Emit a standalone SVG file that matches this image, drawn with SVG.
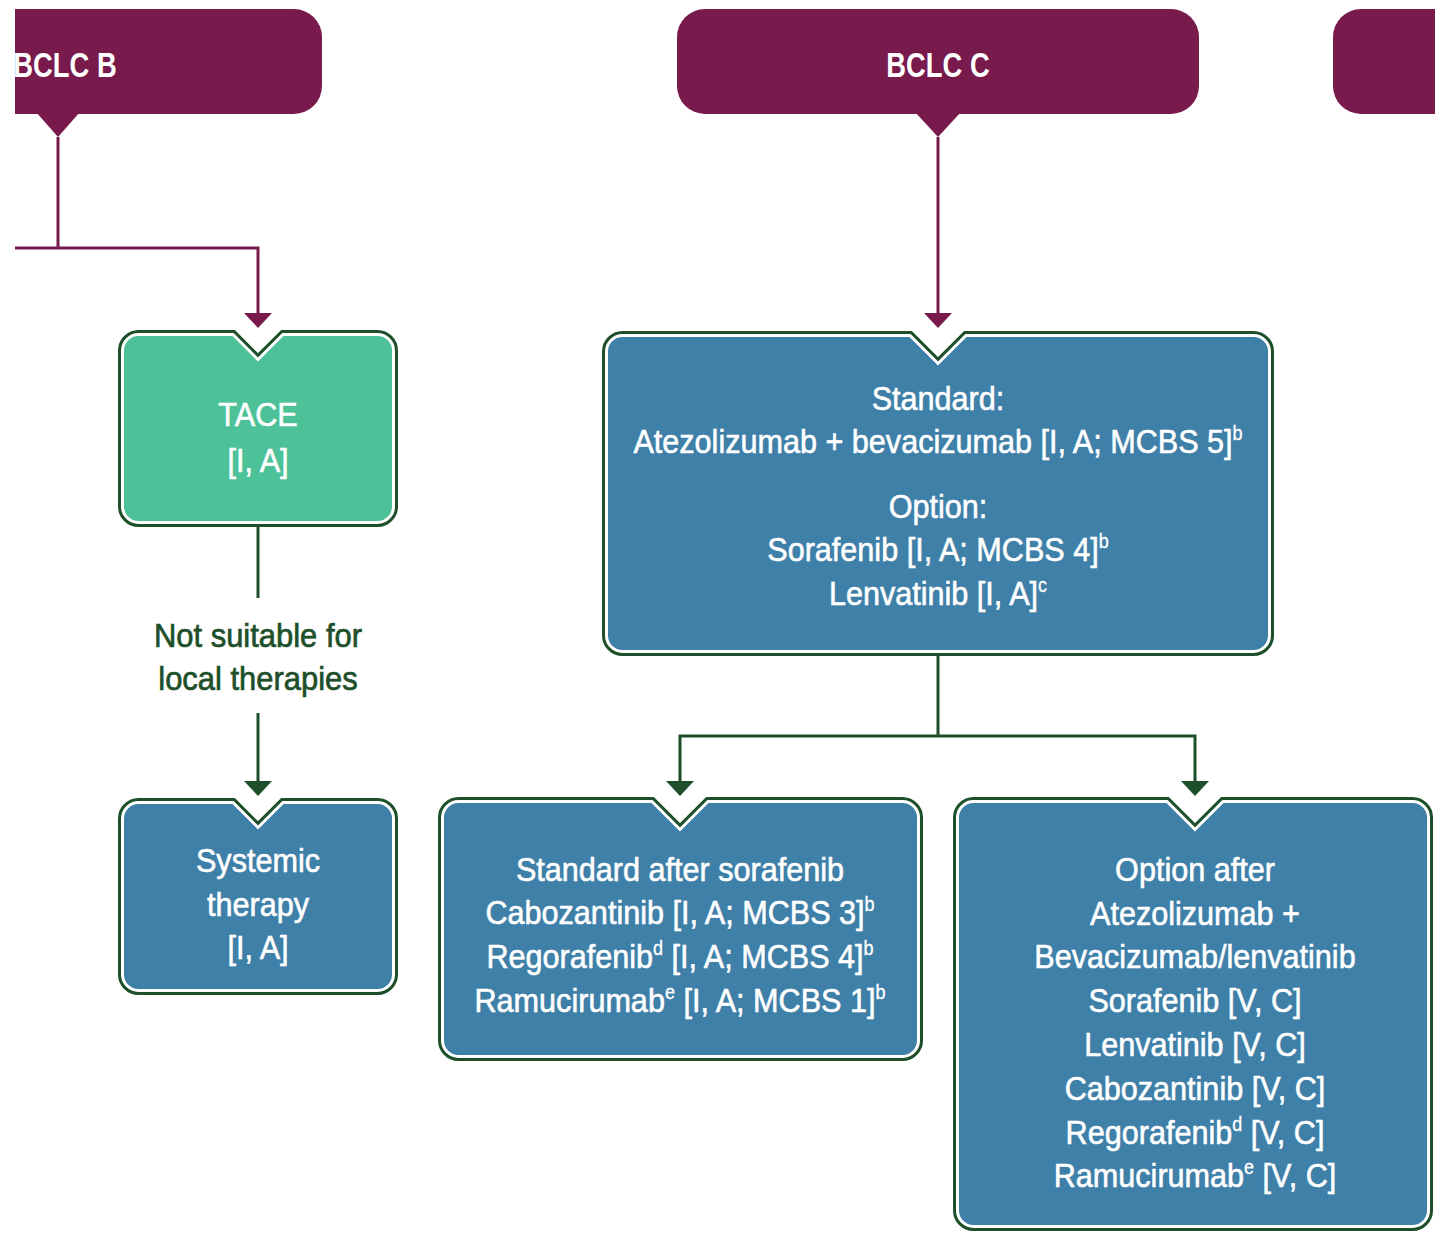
<svg xmlns="http://www.w3.org/2000/svg" width="1435" height="1233" viewBox="0 0 1435 1233">
  <defs>
    <clipPath id="page">
      <rect x="15" y="0" width="1420" height="1233"/>
    </clipPath>
    <marker id="arrowPurple" viewBox="0 0 15 28" refX="5" refY="14" markerWidth="15" markerHeight="28" markerUnits="userSpaceOnUse" orient="auto">
      <path d="M0,0 L15,14 L0,28 Z" fill="#781a4c"/>
    </marker>
    <marker id="arrowGreen" viewBox="0 0 15 28" refX="5" refY="14" markerWidth="15" markerHeight="28" markerUnits="userSpaceOnUse" orient="auto">
      <path d="M0,0 L15,14 L0,28 Z" fill="#1d4f2a"/>
    </marker>
    <!-- notched box outlines (centre line of the white rim) -->
    <path id="pTace" d="M138.5,334.5 H233 L258,359.5 L283,334.5 H377.5 A16,16 0 0 1 393.5,350.5 V506.5 A16,16 0 0 1 377.5,522.5 H138.5 A16,16 0 0 1 122.5,506.5 V350.5 A16,16 0 0 1 138.5,334.5 Z"/>
    <path id="pSys" d="M138.5,802.5 H233 L258,827.5 L283,802.5 H377.5 A16,16 0 0 1 393.5,818.5 V974.5 A16,16 0 0 1 377.5,990.5 H138.5 A16,16 0 0 1 122.5,974.5 V818.5 A16,16 0 0 1 138.5,802.5 Z"/>
    <path id="pStd" d="M622.5,335.5 H910 L938,363.5 L966,335.5 H1253.5 A16,16 0 0 1 1269.5,351.5 V635.5 A16,16 0 0 1 1253.5,651.5 H622.5 A16,16 0 0 1 606.5,635.5 V351.5 A16,16 0 0 1 622.5,335.5 Z"/>
    <path id="pAfterSor" d="M458.5,801.5 H652 L680,829.5 L708,801.5 H902.5 A16,16 0 0 1 918.5,817.5 V1040.5 A16,16 0 0 1 902.5,1056.5 H458.5 A16,16 0 0 1 442.5,1040.5 V817.5 A16,16 0 0 1 458.5,801.5 Z"/>
    <path id="pAfterAtezo" d="M973.5,801.5 H1167 L1195,829.5 L1223,801.5 H1412.5 A16,16 0 0 1 1428.5,817.5 V1210.5 A16,16 0 0 1 1412.5,1226.5 H973.5 A16,16 0 0 1 957.5,1210.5 V817.5 A16,16 0 0 1 973.5,801.5 Z"/>
  </defs>
  <style>
    .hdr { fill: #781a4c; }
    .hdrText { font-family: "Liberation Sans", Arial, sans-serif; font-weight: bold; font-size: 36px; fill: #ffffff; text-anchor: middle; }
    .edgeOuter { fill: #1d4f2a; stroke: #1d4f2a; stroke-width: 9; stroke-linejoin: miter; }
    .fillBlue { fill: #3f80a9; stroke: #ffffff; stroke-width: 3; stroke-linejoin: miter; }
    .fillTeal { fill: #4dc198; stroke: #ffffff; stroke-width: 3; stroke-linejoin: miter; }
    .txt { font-family: "Liberation Sans", Arial, sans-serif; font-size: 34px; fill: #ffffff; stroke: #ffffff; stroke-width: 0.6; text-anchor: middle; }
    .lbl { font-family: "Liberation Sans", Arial, sans-serif; font-size: 34px; fill: #1d4f2a; stroke: #1d4f2a; stroke-width: 0.7; text-anchor: middle; }
    .sup { font-size: 20px; stroke-width: 0.3; }
    .linkP { fill: none; stroke: #781a4c; stroke-width: 3; }
    .linkG { fill: none; stroke: #1d4f2a; stroke-width: 3; }
  </style>

  <rect x="0" y="0" width="1435" height="1233" fill="#ffffff"/>

  <g clip-path="url(#page)">
    <!-- stage headers -->
    <g id="bclc-b">
      <rect class="hdr" x="-200" y="9" width="522" height="105" rx="28"/>
      <polygon class="hdr" points="36,112 80,112 58,137"/>
      <text class="hdrText" transform="translate(65,0) scale(0.76,1)" x="0" y="77">BCLC B</text>
    </g>
    <g id="bclc-c">
      <rect class="hdr" x="677" y="9" width="522" height="105" rx="28"/>
      <polygon class="hdr" points="915,112 961,112 938,137"/>
      <text class="hdrText" transform="translate(938,0) scale(0.76,1)" x="0" y="77">BCLC C</text>
    </g>
    <g id="bclc-d">
      <rect class="hdr" x="1333" y="9" width="300" height="105" rx="28"/>
    </g>

    <!-- connectors -->
    <g id="connectors">
      <path class="linkP" d="M58,137 V248"/>
      <path class="linkP" d="M15,248 H258 V318" marker-end="url(#arrowPurple)"/>
      <path class="linkP" d="M938,137 V318" marker-end="url(#arrowPurple)"/>
      <path class="linkG" d="M258,527 V598"/>
      <path class="linkG" d="M258,713 V786" marker-end="url(#arrowGreen)"/>
      <path class="linkG" d="M938,656 V736"/>
      <path class="linkG" d="M938,736 H680 V786" marker-end="url(#arrowGreen)"/>
      <path class="linkG" d="M938,736 H1195 V786" marker-end="url(#arrowGreen)"/>
      <g transform="translate(258,0) scale(0.91,1)">
        <text class="lbl" x="0" y="647">Not suitable for</text>
        <text class="lbl" x="0" y="690">local therapies</text>
      </g>
    </g>

    <!-- TACE -->
    <g id="tace">
      <use href="#pTace" class="edgeOuter"/>
      <use href="#pTace" class="fillTeal"/>
      <g transform="translate(258,0) scale(0.9,1)">
        <text class="txt" x="0" y="426">TACE</text>
        <text class="txt" x="0" y="472">[I, A]</text>
      </g>
    </g>

    <!-- Systemic therapy -->
    <g id="systemic">
      <use href="#pSys" class="edgeOuter"/>
      <use href="#pSys" class="fillBlue"/>
      <g transform="translate(258,0) scale(0.9,1)">
        <text class="txt" x="0" y="872">Systemic</text>
        <text class="txt" x="0" y="916">therapy</text>
        <text class="txt" x="0" y="959">[I, A]</text>
      </g>
    </g>

    <!-- First-line systemic therapy -->
    <g id="first-line">
      <use href="#pStd" class="edgeOuter"/>
      <use href="#pStd" class="fillBlue"/>
      <g transform="translate(938,0) scale(0.9,1)">
        <text class="txt" x="0" y="410">Standard:</text>
        <text class="txt" x="0" y="453">Atezolizumab + bevacizumab [I, A; MCBS 5]<tspan class="sup" dy="-13">b</tspan></text>
        <text class="txt" x="0" y="518">Option:</text>
        <text class="txt" x="0" y="561">Sorafenib [I, A; MCBS 4]<tspan class="sup" dy="-13">b</tspan></text>
        <text class="txt" x="0" y="605">Lenvatinib [I, A]<tspan class="sup" dy="-13">c</tspan></text>
      </g>
    </g>

    <!-- Second line: standard after sorafenib -->
    <g id="after-sorafenib">
      <use href="#pAfterSor" class="edgeOuter"/>
      <use href="#pAfterSor" class="fillBlue"/>
      <g transform="translate(680,0) scale(0.9,1)">
        <text class="txt" x="0" y="881">Standard after sorafenib</text>
        <text class="txt" x="0" y="924">Cabozantinib [I, A; MCBS 3]<tspan class="sup" dy="-13">b</tspan></text>
        <text class="txt" x="0" y="968">Regorafenib<tspan class="sup" dy="-13">d</tspan><tspan dy="13"> [I, A; MCBS 4]</tspan><tspan class="sup" dy="-13">b</tspan></text>
        <text class="txt" x="0" y="1012">Ramucirumab<tspan class="sup" dy="-13">e</tspan><tspan dy="13"> [I, A; MCBS 1]</tspan><tspan class="sup" dy="-13">b</tspan></text>
      </g>
    </g>

    <!-- Second line: options after atezolizumab + bevacizumab / lenvatinib -->
    <g id="after-atezo">
      <use href="#pAfterAtezo" class="edgeOuter"/>
      <use href="#pAfterAtezo" class="fillBlue"/>
      <g transform="translate(1195,0) scale(0.9,1)">
        <text class="txt" x="0" y="881">Option after</text>
        <text class="txt" x="0" y="925">Atezolizumab +</text>
        <text class="txt" x="0" y="968">Bevacizumab/lenvatinib</text>
        <text class="txt" x="0" y="1012">Sorafenib [V, C]</text>
        <text class="txt" x="0" y="1056">Lenvatinib [V, C]</text>
        <text class="txt" x="0" y="1100">Cabozantinib [V, C]</text>
        <text class="txt" x="0" y="1144">Regorafenib<tspan class="sup" dy="-13">d</tspan><tspan dy="13"> [V, C]</tspan></text>
        <text class="txt" x="0" y="1187">Ramucirumab<tspan class="sup" dy="-13">e</tspan><tspan dy="13"> [V, C]</tspan></text>
      </g>
    </g>
  </g>
</svg>
